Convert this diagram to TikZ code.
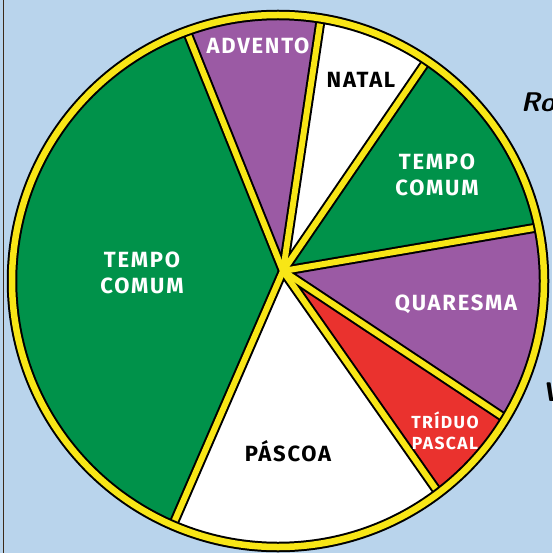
\documentclass[tikz,border=0pt]{standalone}
\usepackage{fontspec}
\setmainfont{Fira Sans}
\newfontfamily\lblfont{Fira Sans}[LetterSpace=8]
\usetikzlibrary{calc}
\definecolor{bgblue}{RGB}{185,212,236}
\definecolor{pgreen}{RGB}{0,146,74}
\definecolor{ppurple}{RGB}{155,90,164}
\definecolor{pred}{RGB}{234,50,46}
\definecolor{pyellow}{RGB}{248,230,22}
\definecolor{pframe}{RGB}{60,42,24}
\tikzset{
  lbl/.style={text=white, align=center, inner sep=0pt, font=\lblfont\bfseries\fontsize{22}{26}\selectfont},
  lbldark/.style={lbl, text=black},
  lblsmall/.style={lbl, font=\lblfont\bfseries\fontsize{17.5}{21}\selectfont},
  spokeout/.style={line width=10, draw=black},
  spokein/.style={line width=6, draw=pyellow},
  ringout/.style={line width=10.5, draw=black},
  ringin/.style={line width=6.5, draw=pyellow},
  edgetext/.style={text=black, inner sep=0pt, anchor=west, font=\sffamily\bfseries\itshape\fontsize{27}{30}\selectfont}
}
\begin{document}
\begin{tikzpicture}[x=1pt,y=-1pt]
\path[fill=bgblue] (0,0) rectangle (552,553);
\useasboundingbox (0,0) rectangle (552,553);
\draw[pframe, line width=1.6] (3.5,0) -- (3.5,553);
% geometry
\coordinate (C) at (278,281);
\coordinate (P) at (283,271);
\coordinate (A1) at (189,37);
\coordinate (A2) at (320,24);
\coordinate (A3) at (426,62);
\coordinate (A4) at (540,227);
\coordinate (A5) at (509,421);
\coordinate (A6) at (440,495);
\coordinate (A7) at (172,527);
\foreach \i in {1,...,7} {\coordinate (E\i) at ($(P)!2.2!(A\i)$);}
% edge texts (cut off by the frame, as in the original)
\node[edgetext] (ro) at (521,102) {Ro};
\node[edgetext] (vv) at (542,392) {V};
% sectors
\begin{scope}
\clip (C) circle [radius=266];
\fill[pgreen] (C) circle [radius=270];
\fill[ppurple] (P) -- (E1) -- (E2) -- cycle;
\fill[white] (P) -- (E2) -- (E3) -- cycle;
\fill[pgreen] (P) -- (E3) -- (E4) -- cycle;
\fill[ppurple] (P) -- (E4) -- (E5) -- cycle;
\fill[pred] (P) -- (E5) -- (E6) -- cycle;
\fill[white] (P) -- (E6) -- (E7) -- cycle;
\foreach \i in {1,...,7} {\draw[spokeout, line cap=round] (P) -- (E\i);}
\foreach \i in {1,...,7} {\draw[spokein, line cap=round] (P) -- (E\i);}
\end{scope}
\draw[ringout] (C) circle [radius=266];
\draw[ringin] (C) circle [radius=266];
% labels
\node[lbl] (advento) at (258,46) {ADVENTO};
\node[lbldark] (natal) at (361,80) {NATAL};
\node[lbl] (tcr) at (437,175) {TEMPO\\COMUM};
\node[lbl] (tcl) at (142,273) {TEMPO\\COMUM};
\node[lbl] (quaresma) at (456,304) {QUARESMA};
\node[lblsmall] (triduo) at (445,431) {TRÍDUO\\PASCAL};
\node[lbldark] (pascoa) at (288,451) {PÁSCOA};
\end{tikzpicture}
\end{document}
